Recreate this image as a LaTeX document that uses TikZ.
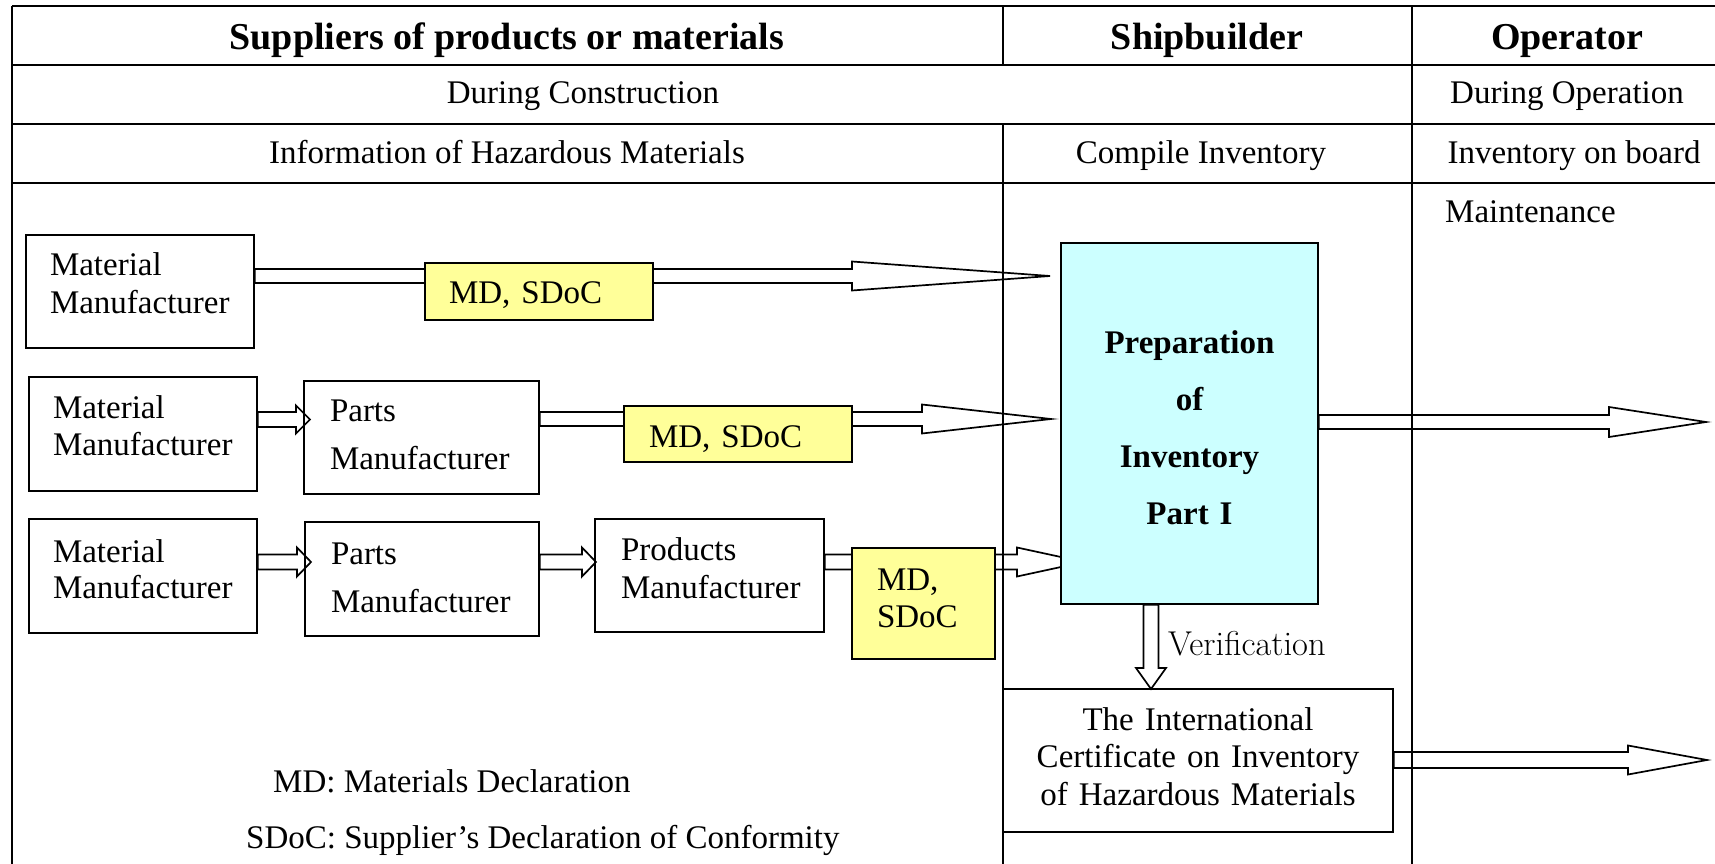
\documentclass[tikz,border=0pt]{standalone}
\usepackage{fontspec}
\newfontfamily\timesfont{Liberation Serif}
\usepackage{tikz}
\usetikzlibrary{positioning,calc}
\definecolor{mdyellow}{HTML}{FFFF99}
\definecolor{prepcyan}{HTML}{CCFFFF}
\pgfdeclarelayer{background}
\pgfsetlayers{background,main}
\tikzset{main text/.style={inner sep=0pt,font=\timesfont\fontsize{33}{40}\selectfont},}
\tikzset{main head/.style={inner sep=0pt,font=\timesfont\bfseries\fontsize{38}{44}\selectfont},}
\tikzset{line gap/.style={font=\timesfont\fontsize{33}{#1}\selectfont},}
\tikzset{main box/.style={rectangle,draw,line width=1.5pt,inner sep=0pt,align=left,text height=24pt},}
\tikzset{main note/.style={main box,fill=mdyellow},}
\tikzset{main line/.style={line width=1.3pt},}
\tikzset{main arrow/.style={line width=1.7pt,line join=miter},}

% hollow block arrows: from, tip, half shaft, half head, head length
\newcommand{\harrow}[5]{\draw[main arrow] ($(#1)+(0,#3)$) -- ($(#2)+(-#5,#3)$) -- ($(#2)+(-#5,#4)$) -- (#2) -- ($(#2)+(-#5,-#4)$) -- ($(#2)+(-#5,-#3)$) -- ($(#1)+(0,-#3)$) -- cycle;}
\newcommand{\varrow}[5]{\draw[main arrow] ($(#1)+(#3,0)$) -- ($(#2)+(#3,-#5)$) -- ($(#2)+(#4,-#5)$) -- (#2) -- ($(#2)+(-#4,-#5)$) -- ($(#2)+(-#3,-#5)$) -- ($(#1)+(-#3,0)$) -- cycle;}

\begin{document}
\begin{tikzpicture}[x=1pt,y=-1pt]
    \useasboundingbox (0,0) rectangle (1715,864);

    % table
    \begin{pgfonlayer}{background}
    \draw[main line] (12,6) -- (1715,6);
    \foreach \y in {65,124,183}
        \draw[main line] (12,\y) -- (1715,\y);
    \draw[main line] (12,6) -- (12,864);
    \draw[main line] (1003,6) -- (1003,65);
    \draw[main line] (1003,124) -- (1003,864);
    \draw[main line] (1412,6) -- (1412,864);
    \end{pgfonlayer}

    \node[main head, anchor=base] (h1) at (507,50) {Suppliers of products or materials};
    \node[main head, anchor=base] (h2) at (1207,50) {Shipbuilder};
    \node[main head, anchor=base] (h3) at (1567,50) {Operator};
    \node[main text, anchor=base] (h4) at (583,104) {During Construction};
    \node[main text, anchor=base] (h5) at (1567,104) {During Operation};
    \node[main text, anchor=base] (h6) at (507,163) {Information of Hazardous Materials};
    \node[main text, anchor=base] (h7) at (1201,163) {Compile Inventory};
    \node[main text, anchor=base] (h8) at (1574,163) {Inventory on board};
    \node[main text, anchor=base west] (h9) at (1445,222) {Maintenance};

    % suppliers
    \node[main box, line gap=38, text width=180pt, minimum width=228pt, minimum height=113pt, text depth=57pt] (1) at (140,291.5) {Material\\Manufacturer};
    \node[main box, line gap=37, text width=180pt, minimum width=228pt, minimum height=114pt, text depth=56pt] (2) at (143,434) {Material\\Manufacturer};
    \node[main box, line gap=36, text width=180pt, minimum width=228pt, minimum height=114pt, text depth=52pt] (3) at (143,576) {Material\\Manufacturer};
    \node[main box, line gap=48, text width=183pt, minimum width=235pt, minimum height=113pt, text depth=57pt] (4) at (421.5,437.5) {Parts\\Manufacturer};
    \node[main box, line gap=48, text width=182pt, minimum width=234pt, minimum height=114pt, text depth=54pt] (5) at (422,579) {Parts\\Manufacturer};
    \node[main box, line gap=38, text width=177pt, minimum width=229pt, minimum height=113pt, text depth=55pt] (6) at (709.5,575.5) {Products\\Manufacturer};
    \node[main note, line gap=37, text width=180pt, minimum width=228pt, minimum height=57pt, text depth=1pt] (7) at (539,291.5) {MD, SDoC};
    \node[main note, line gap=37, text width=178pt, minimum width=228pt, minimum height=56pt, text height=26pt, text depth=0pt] (8) at (738,434) {MD, SDoC};
    \node[main note, line gap=37, text width=93pt, minimum width=143pt, minimum height=111pt, text depth=51pt] (9) at (923.5,603.5) {MD,\\SDoC};

    % shipbuilder
    \node[main box, fill=prepcyan, align=center, text width=240pt, minimum width=257pt, minimum height=361pt, text depth=165pt, font=\timesfont\bfseries\fontsize{33}{57}\selectfont] (10) at (1189.5,423.5) {Preparation\\of\\Inventory\\Part I};
    \node[main box, align=center, line gap=37.5, text width=380pt, minimum width=390pt, minimum height=143pt, text depth=85pt] (11) at (1198,760.5) {The International\\Certificate on Inventory\\of Hazardous Materials};
    \node[anchor=base west, inner sep=0pt, font=\fontsize{34.5}{40}\selectfont] (12) at (1168,655) {Verification};

    \node[main text, anchor=base west] (13) at (273,792) {MD: Materials Declaration};
    \node[main text, anchor=base west] (14) at (246,848) {SDoC: Supplier’s Declaration of Conformity};

    \coordinate (a1) at (1050,276);
    \coordinate (a2) at (1051,419);
    \coordinate (a3) at (1084,562);
    \coordinate (a4) at (1706,422);
    \coordinate (a5) at (1707,760);
    \coordinate (b1) at (310,419.5);
    \coordinate (b2) at (311,562);
    \coordinate (b3) at (596,562);
    \coordinate (v1) at (1151,689);

    \begin{pgfonlayer}{background}
    \harrow{1.east |- a1}{a1}{7}{14.5}{198}
    \harrow{4.east |- a2}{a2}{7}{14.5}{129}
    \harrow{6.east |- a3}{a3}{7.5}{14.5}{67}
    \harrow{10.east |- a4}{a4}{7}{15}{97}
    \harrow{11.east |- a5}{a5}{8}{14.5}{79}
    \harrow{2.east |- b1}{b1}{7.5}{14}{14}
    \harrow{3.east |- b2}{b2}{7.5}{14.5}{14}
    \harrow{5.east |- b3}{b3}{7.5}{14.5}{14}
    \varrow{10.south -| v1}{v1}{7.5}{15}{21}
    \end{pgfonlayer}
\end{tikzpicture}
\end{document}
